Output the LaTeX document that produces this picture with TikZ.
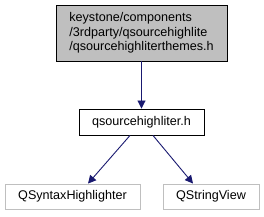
\documentclass[tikz,border=0pt]{standalone}
\usepackage{fontspec}
\setmainfont{Liberation Sans}
\usetikzlibrary{arrows.meta}
\definecolor{edgeblue}{HTML}{191970}
\definecolor{boxgray}{HTML}{BFBFBF}
\begin{document}
\begin{tikzpicture}[x=1pt,y=-1pt,
  lbl/.style={inner sep=0pt,font=\fontsize{12.6}{14.7}\selectfont},
  box/.style={lbl,draw=black,line width=0.9pt},
  extbox/.style={lbl,draw=boxgray,line width=0.9pt},
  edge/.style={draw=edgeblue,line width=0.9pt,-{Triangle[length=8pt,width=8pt]}}]
\useasboundingbox (0,0) rectangle (264,216);
\node[box,fill=boxgray,minimum width=171pt,minimum height=56pt,align=left] (top) at (141.5,33)
  {keystone/components\\/3rdparty/qsourcehighlite\\/qsourcehighliterthemes.h};
\node[box,fill=white,minimum width=125pt,minimum height=26pt] (mid) at (141.5,122) {qsourcehighliter.h};
\node[extbox,minimum width=135pt,minimum height=25pt] (qsh) at (72.5,196.5) {QSyntaxHighlighter};
\node[extbox,minimum width=96pt,minimum height=25pt] (qsv) at (211,196.5) {QStringView};
\draw[edge] (top) -- (mid);
\draw[edge] ([xshift=-11.5pt]mid.south) -- ([xshift=15.5pt]qsh.north);
\draw[edge] ([xshift=11.5pt]mid.south) -- ([xshift=-18pt]qsv.north);
\end{tikzpicture}
\end{document}
